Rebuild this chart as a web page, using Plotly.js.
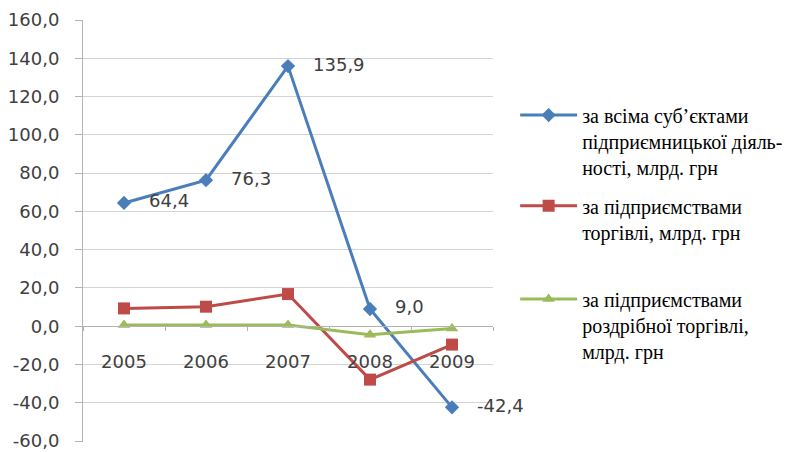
<!DOCTYPE html>
<html>
<head>
<meta charset="utf-8">
<script src="https://cdn.plot.ly/plotly-3.0.1.min.js"></script>
<style>html,body{margin:0;padding:0;background:#fff;}#chart{width:800px;height:452px;}</style>
</head>
<body>
<div id="chart"></div>
<script>
const years = ['2005', '2006', '2007', '2008', '2009'];
const allEntities = [64.4, 76.3, 135.9, 9.0, -42.4];
const tradeEnterprises = [9.3, 10.2, 16.8, -27.9, -9.6];
const retailEnterprises = [0.6, 0.6, 0.6, -4.5, -1.2];
const seriesNames = [
  'за всіма суб’єктами<br>підприємницької діяль-<br>ності, млрд. грн',
  'за підприємствами<br>торгівлі, млрд. грн',
  'за підприємствами<br>роздрібної торгівлі,<br>млрд. грн'
];
const yTicks = [-60, -40, -20, 0, 20, 40, 60, 80, 100, 120, 140, 160];

const fmt = v => v.toFixed(1).replace('.', ',');
const yTickText = yTicks.map(fmt);
const allEntitiesText = allEntities.map(v => '\u00a0\u00a0\u00a0' + fmt(v));

const numFont = {family: 'DejaVu Sans', size: 18, color: '#404040'};
const serifFam = 'Liberation Serif';

const traces = [
  {
    x: years, y: allEntities, name: seriesNames[0], type: 'scatter', mode: 'lines+markers+text',
    line: {color: '#4a7ebb', width: 3},
    marker: {symbol: 'diamond', size: 11, color: '#4a7ebb'},
    text: allEntitiesText, texttemplate: '%{text}', textposition: 'middle right',
    textfont: numFont, cliponaxis: false, legend: 'legend'
  },
  {
    x: years, y: tradeEnterprises, name: seriesNames[1], type: 'scatter', mode: 'lines+markers',
    line: {color: '#be4b48', width: 3},
    marker: {symbol: 'square', size: 12, color: '#be4b48'},
    cliponaxis: false, legend: 'legend2'
  },
  {
    x: years, y: retailEnterprises, name: seriesNames[2], type: 'scatter', mode: 'lines+markers',
    line: {color: '#9bbb59', width: 3},
    marker: {symbol: 'triangle-up', size: 11, color: '#9bbb59'},
    cliponaxis: false, legend: 'legend3'
  }
];

function legendAt(y) {
  return {
    font: {family: serifFam, size: 20, color: '#000'},
    valign: 'top', xanchor: 'left', yanchor: 'top', x: 1.054, y: y,
    itemwidth: 57
  };
}

const layout = {
  width: 800, height: 452,
  margin: {l: 83, r: 307, t: 20, b: 10},
  paper_bgcolor: '#fff', plot_bgcolor: '#fff',
  showlegend: true,
  xaxis: {
    type: 'category', range: [-0.5, 4.5],
    anchor: 'free', position: 60.5 / 220.5,
    showgrid: false, zeroline: false,
    showline: true, linecolor: '#b3b3b3', linewidth: 1,
    ticks: 'outside', tickson: 'boundaries', ticklen: 4, tickcolor: '#b3b3b3',
    ticklabelstandoff: 19,
    tickfont: numFont
  },
  yaxis: {
    range: [-60.5, 160], tickvals: yTicks, ticktext: yTickText,
    showgrid: true, gridcolor: '#d4d4d4', gridwidth: 1,
    zeroline: false,
    showline: true, linecolor: '#b3b3b3', linewidth: 1,
    ticks: 'outside', ticklen: 7, tickcolor: '#b3b3b3',
    ticklabelstandoff: 12, ticklabeloverflow: 'allow',
    tickfont: numFont
  },
  legend: legendAt(0.821),
  legend2: legendAt(0.606),
  legend3: legendAt(0.385)
};

Plotly.newPlot('chart', traces, layout, {staticPlot: true, displayModeBar: false});
</script>
</body>
</html>
